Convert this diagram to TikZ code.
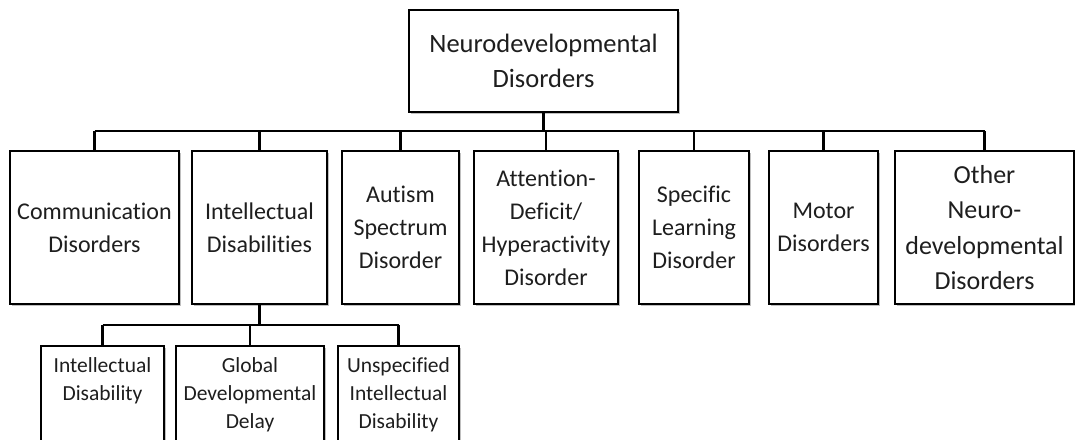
\documentclass[tikz,border=0pt]{standalone}
\usepackage{fontspec}
\setmainfont{Carlito}[Ligatures={NoCommon}]
\usetikzlibrary{shadows}

\definecolor{inkgray}{HTML}{1E1E1E}

\tikzset{
  boxbase/.style={draw=black, line width=2.2pt, fill=white, align=center,
    text=inkgray, inner xsep=4pt,
    drop shadow={shadow xshift=2pt, shadow yshift=-2pt, fill=black, opacity=.25}},
  rootbox/.style={boxbase, minimum width=269pt, minimum height=102pt,
    font=\fontsize{26.5pt}{35pt}\selectfont},
  catbox/.style={boxbase, anchor=north, minimum height=153pt,
    font=\fontsize{24pt}{33pt}\selectfont},
  subbox/.style={boxbase, anchor=north, inner ysep=11pt, text depth=110pt,
    font=\fontsize{21.5pt}{28pt}\selectfont},
  link/.style={draw=black, line width=2.2pt}
}

\begin{document}
\begin{tikzpicture}[x=1pt,y=-1pt]
  \useasboundingbox (0,0) rectangle (1075,439);
  \clip (0,0) rectangle (1075,439);

  % bus lines
  \coordinate (topbus) at (0,131);
  \coordinate (subbus) at (0,325);

  % root
  \node[rootbox] (root) at (543.5,61) {Neurodevelopmental\\Disorders};

  % first level
  \node[catbox, minimum width=169pt] (comm) at (94.5,150) {Communication\\Disorders};
  \node[catbox, minimum width=135pt] (intdis) at (259.5,150) {Intellectual\\Disabilities};
  \node[catbox, minimum width=117pt] (autism) at (400.5,150) {Autism\\Spectrum\\Disorder};
  \node[catbox, minimum width=144pt] (adhd) at (546,150) {Attention-\\Deficit/\\Hyperactivity\\Disorder};
  \node[catbox, minimum width=110pt] (learn) at (694,150) {Specific\\Learning\\Disorder};
  \node[catbox, minimum width=109pt] (motor) at (823.5,150) {Motor\\Disorders};
  \node[catbox, minimum width=179pt, font=\fontsize{26pt}{35.5pt}\selectfont] (other) at (984.5,150)
    {Other\\Neuro-\\developmental\\Disorders};

  % second level
  \node[subbox, minimum width=123pt] (iddis) at (102.5,345) {Intellectual\\Disability};
  \node[subbox, minimum width=148pt] (gdd) at (250,345) {Global\\Developmental\\Delay};
  \node[subbox, minimum width=121pt] (uid) at (398.5,345) {Unspecified\\Intellectual\\Disability};

  % connectors
  \draw[link] (root.south) -- (root.south |- topbus);
  \draw[link] (comm.north |- topbus) -- (other.north |- topbus);
  \foreach \n in {comm,intdis,autism,adhd,learn,motor,other}
    \draw[link] (\n.north) -- (\n.north |- topbus);

  \draw[link] (intdis.south) -- (intdis.south |- subbus);
  \draw[link] (iddis.north |- subbus) -- (uid.north |- subbus);
  \foreach \n in {iddis,gdd,uid}
    \draw[link] (\n.north) -- (\n.north |- subbus);
\end{tikzpicture}
\end{document}
